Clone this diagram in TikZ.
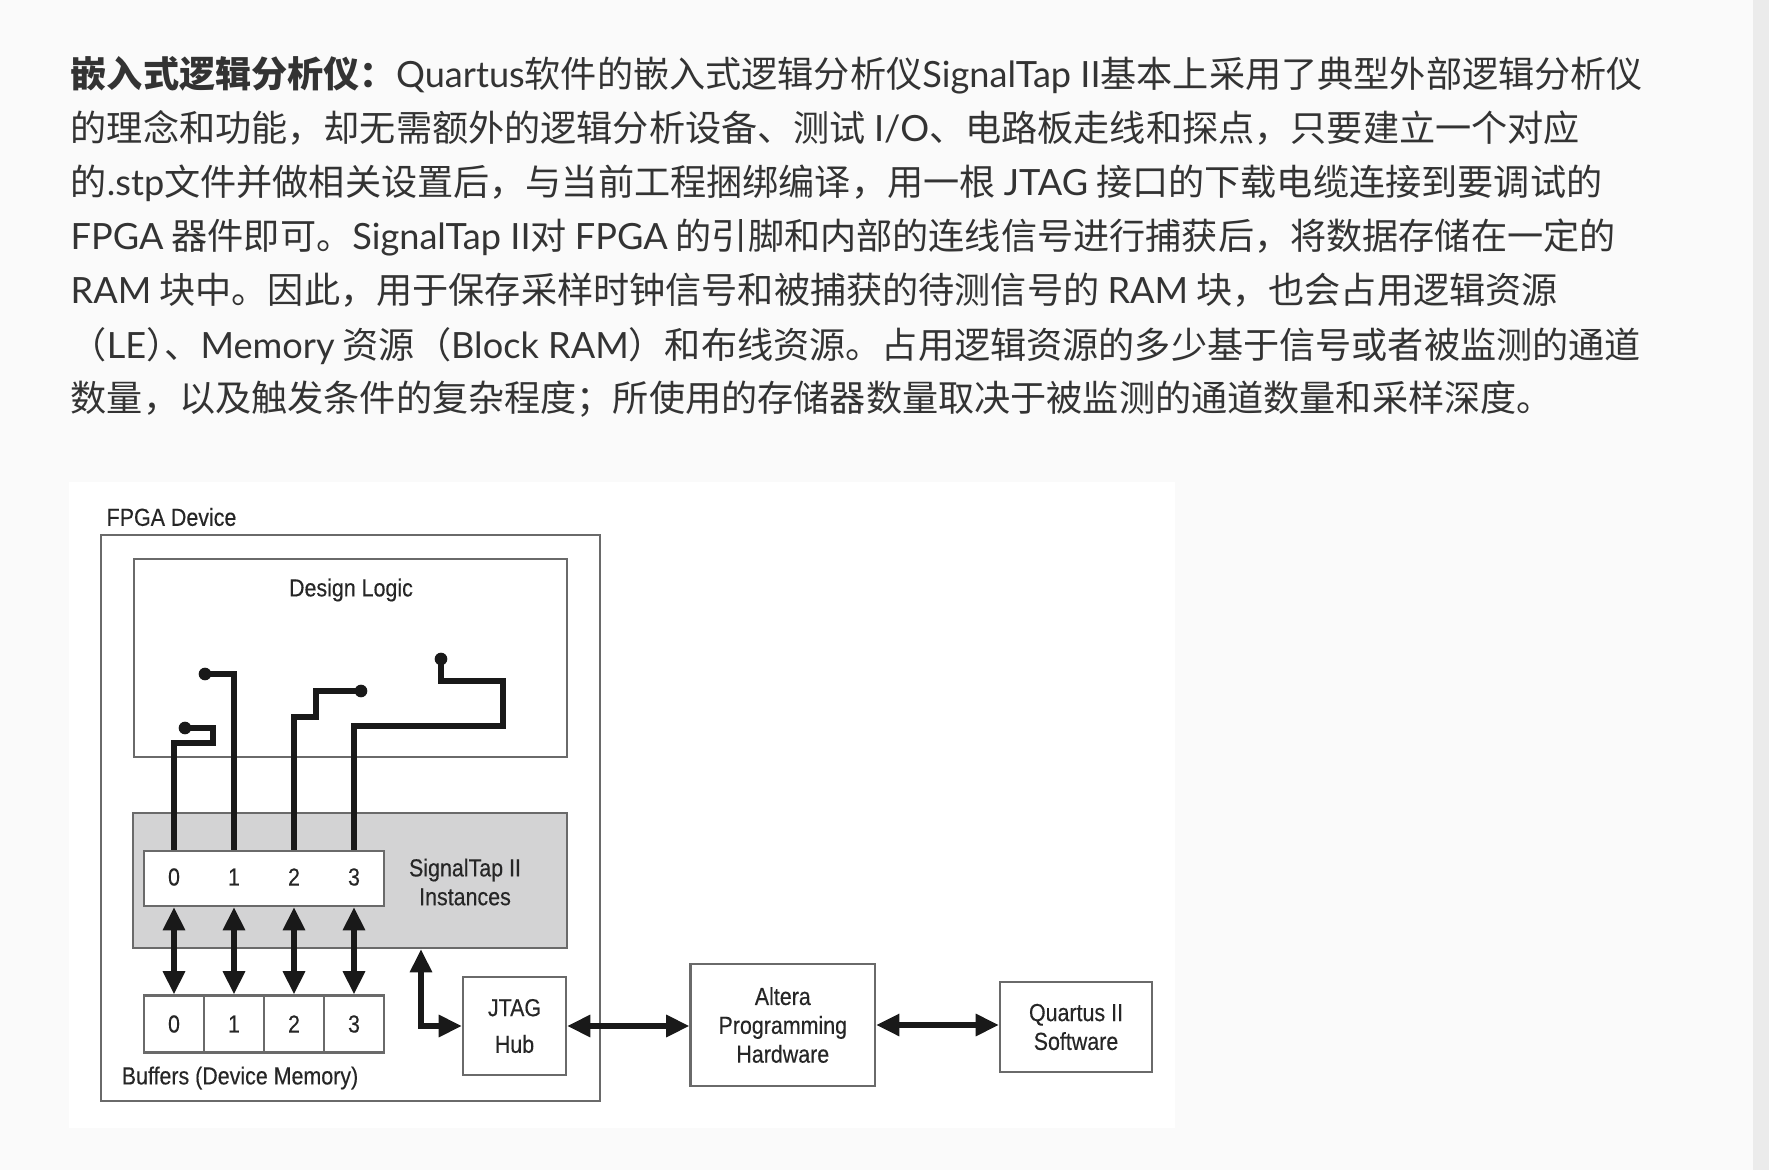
\documentclass[tikz,border=0pt]{standalone}
\usepackage{fontspec}
\setmainfont{Lato}
\newfontfamily\zh{Noto Sans CJK SC}
\newfontfamily\hv[FakeStretch=0.87,FakeBold=0.3]{Liberation Sans}
\usetikzlibrary{arrows.meta,positioning,calc}
\definecolor{pagebg}{HTML}{FAFAFA}
\definecolor{edgebg}{HTML}{EBEBEB}
\definecolor{txt}{HTML}{333333}
\definecolor{dtxt}{HTML}{262626}
\definecolor{tapgray}{HTML}{D3D3D4}
\definecolor{boxline}{HTML}{6A6A6A}
\newcommand{\en}[1]{{\rmfamily #1}}
\tikzset{
  para/.style={anchor=base west, inner sep=0pt, text=txt, font=\zh\fontsize{10.28}{13}\selectfont},
  box/.style={rectangle, draw=boxline, line width=0.6pt, inner sep=0pt, align=center,
              text=dtxt, font=\hv\fontsize{7}{8.2}\selectfont},
  gbox/.style={box, fill=tapgray},
  cell/.style={box, fill=white, minimum width=0.6cm, minimum height=0.57cm,
               font=\hv\fontsize{7}{8}\selectfont},
  lbl/.style={inner sep=0pt, text=dtxt, align=center, font=\hv\fontsize{7}{8.2}\selectfont},
  num/.style={lbl, font=\hv\fontsize{7}{8}\selectfont},
  wire/.style={line width=1.6pt, black!90, line join=miter},
  arr/.style={{Triangle[length=6.6pt,width=6pt]}-{Triangle[length=6.6pt,width=6pt]},
              line width=1.6pt, black!90}
}
\begin{document}
\begin{tikzpicture}[x=0.01cm, y=-0.01cm]
  \useasboundingbox (0,0) rectangle (1769,1170);
  \fill[pagebg] (0,0) rectangle (1769,1170);
  \fill[edgebg] (1753,0) rectangle (1769,1170);
  \fill[white] (69,482) rectangle (1175,1128);

  \node[para] (l1) at (70,88) {{\bfseries 嵌入式逻辑分析仪：}\en{Quartus}软件的嵌入式逻辑分析仪\en{SignalTap II}基本上采用了典型外部逻辑分析仪};
  \node[para] (l2) at (70,142) {的理念和功能，却无需额外的逻辑分析设备、测试 \en{I/O}、电路板走线和探点，只要建立一个对应};
  \node[para] (l3) at (70,196) {的\en{.stp}文件并做相关设置后，与当前工程捆绑编译，用一根 \en{JTAG} 接口的下载电缆连接到要调试的};
  \node[para] (l4) at (70,250) {\en{FPGA} 器件即可。\en{SignalTap II}对 \en{FPGA} 的引脚和内部的连线信号进行捕获后，将数据存储在一定的};
  \node[para] (l5) at (70,304) {\en{RAM} 块中。因此，用于保存采样时钟信号和被捕获的待测信号的 \en{RAM} 块，也会占用逻辑资源};
  \node[para] (l6) at (70,358) {（\en{LE}）\kern-0.5em、\en{Memory} 资源（\en{Block RAM}）和布线资源。占用逻辑资源的多少基于信号或者被监测的通道};
  \node[para] (l7) at (70,411) {数量，以及触发条件的复杂程度；所使用的存储器数量取决于被监测的通道数量和采样深度。};

  \node[box, minimum width=4.99cm, minimum height=5.66cm] (fpga) at (350.5,818) {};
  \node[lbl, anchor=west] (fpgalbl) at (106,517) {FPGA Device};
  \node[box, minimum width=4.33cm, minimum height=1.98cm] (logic) at (350.5,658) {};
  \node[lbl] (logiclbl) at (351,590) {Design Logic};
  \node[gbox, minimum width=4.34cm, minimum height=1.35cm] (tap) at (350,880.5) {};
  \node[box, fill=white, minimum width=2.40cm, minimum height=0.55cm] (inst) at (264,878.5) {};
  \foreach \i in {0,...,3} \node[num] (i\i) at ({174+60*\i},877) {\i};
  \node[lbl] (taplbl) at (465,882) {SignalTap II\\Instances};
  \foreach \i in {0,...,3} \node[cell] (b\i) at ({174+60*\i},1024) {\i};
  \node[lbl] (buflbl) at (240,1078) {Buffers (Device Memory)};
  \node[box, minimum width=1.03cm, minimum height=0.98cm, font=\hv\fontsize{7}{10.4}\selectfont] (jtag) at (514.5,1026) {JTAG\\Hub};
  \node[box, minimum width=1.845cm, minimum height=1.22cm] (alt) at (782.8,1025) {Altera\\Programming\\Hardware};
  \node[box, minimum width=1.52cm, minimum height=0.90cm] (qsw) at (1076,1027) {Quartus II\\Software};

  \coordinate (d0) at (185,728);
  \coordinate (d1) at (205,674);
  \coordinate (d2) at (361,691);
  \coordinate (d3) at (441,659);
  \draw[wire] (i0 |- inst.north) |- (213,743) |- (d0);
  \draw[wire] (i1 |- inst.north) |- (d1);
  \draw[wire] (i2 |- inst.north) |- (316,717) |- (d2);
  \draw[wire] (i3 |- inst.north) |- (503,726) |- (441,681) -- (d3);
  \foreach \i in {0,...,3} \fill[black!90] (d\i) circle (1.8pt);

  \foreach \i in {0,...,3} \draw[arr] (i\i |- inst.south) -- (b\i.north);
  \coordinate (hubin) at (421,1026);
  \draw[arr] (hubin |- tap.south) |- (jtag.west);
  \draw[arr] (jtag.east) -- (jtag.east -| alt.west);
  \draw[arr] (alt.east) -- (alt.east -| qsw.west);
\end{tikzpicture}
\end{document}
